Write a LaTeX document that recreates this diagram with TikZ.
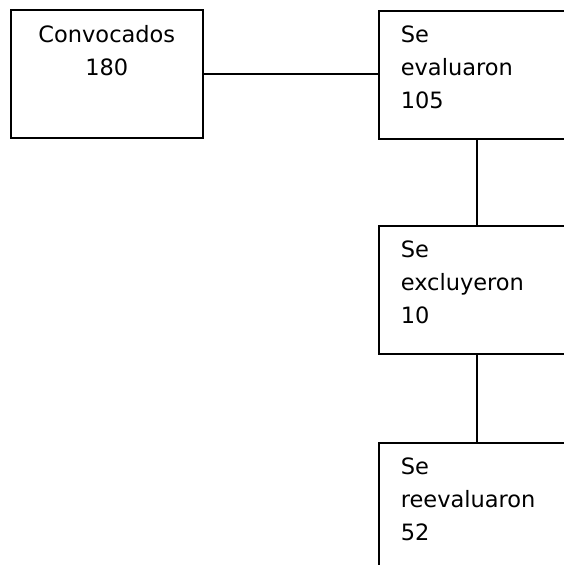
\documentclass[tikz,border=0pt]{standalone}
\usepackage{fontspec}
\setmainfont{DejaVu Sans}
\begin{document}
\begin{tikzpicture}[x=1pt,y=1pt,
  every node/.style={font=\fontsize{22.5}{33}\selectfont},
  boxbase/.style={draw=black, line width=1.6pt, rectangle, inner ysep=0pt, inner xsep=22pt,
    text width=152pt, minimum height=128pt, text height=32pt, text depth=96pt, anchor=north west},
  leftbox/.style={boxbase, align=left},
  centerbox/.style={boxbase, align=center, text width=148pt, text height=33pt, text depth=95pt},
  conn/.style={draw=black, line width=1.6pt}]
\clip (0,0) rectangle (564,565);
\fill[white] (0,0) rectangle (564,565);
\node[centerbox] (conv) at (10,556) {Convocados\\180};
\node[leftbox] (eval) at (378,555) {Se\\evaluaron\\105};
\node[leftbox] (excl) at (378,340) {Se\\excluyeron\\10};
\node[leftbox] (reev) at (378,123) {Se\\reevaluaron\\52};
\draw[conn] (conv.east) -- (eval.west |- conv.east);
\draw[conn] (eval.south) -- (excl.north);
\draw[conn] (excl.south) -- (reev.north);
\end{tikzpicture}
\end{document}
